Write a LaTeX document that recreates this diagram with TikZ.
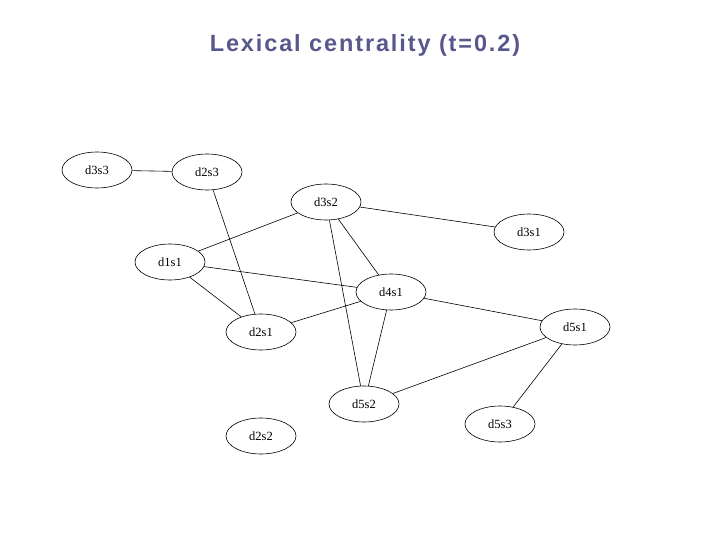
\documentclass[tikz,border=0pt]{standalone}
\usepackage{fontspec}
\setmainfont{Liberation Serif}
\newfontfamily\titlefont[LetterSpace=8]{Liberation Sans}
\usetikzlibrary{shapes.geometric}
\definecolor{titleblue}{RGB}{88,88,140}
\begin{document}
\begin{tikzpicture}[x=1pt,y=-1pt,
  nd/.style={ellipse,draw,line width=0.6pt,minimum width=70pt,minimum height=36pt,inner sep=0pt,font=\fontsize{12.5}{14}\selectfont},
  ed/.style={line width=0.6pt}]
\useasboundingbox (0,0) rectangle (720,540);
\node[font=\titlefont\bfseries\fontsize{23.5}{27}\selectfont,text=titleblue] (title) at (365,45) {Lexical centrality (t=0.2)};
\node[nd] (d3s3) at (97,170) {d3s3};
\node[nd] (d2s3) at (207,172) {d2s3};
\node[nd] (d3s2) at (326,202) {d3s2};
\node[nd] (d3s1) at (529,232) {d3s1};
\node[nd] (d1s1) at (170,262) {d1s1};
\node[nd] (d4s1) at (391,292) {d4s1};
\node[nd] (d5s1) at (575,327) {d5s1};
\node[nd] (d2s1) at (261,332) {d2s1};
\node[nd] (d5s2) at (364,404) {d5s2};
\node[nd] (d2s2) at (261,436) {d2s2};
\node[nd] (d5s3) at (500,424) {d5s3};
\draw[ed] (d3s3) -- (d2s3);
\draw[ed] (d2s3) -- (d2s1);
\draw[ed] (d3s2) -- (d3s1);
\draw[ed] (d3s2) -- (d5s2);
\draw[ed] (d3s2) -- (d1s1);
\draw[ed] (d3s2) -- (d4s1);
\draw[ed] (d1s1) -- (d4s1);
\draw[ed] (d1s1) -- (d2s1);
\draw[ed] (d4s1) -- (d5s1);
\draw[ed] (d4s1) -- (d2s1);
\draw[ed] (d4s1) -- (d5s2);
\draw[ed] (d5s1) -- (d5s2);
\draw[ed] (d5s1) -- (d5s3);
\end{tikzpicture}
\end{document}
